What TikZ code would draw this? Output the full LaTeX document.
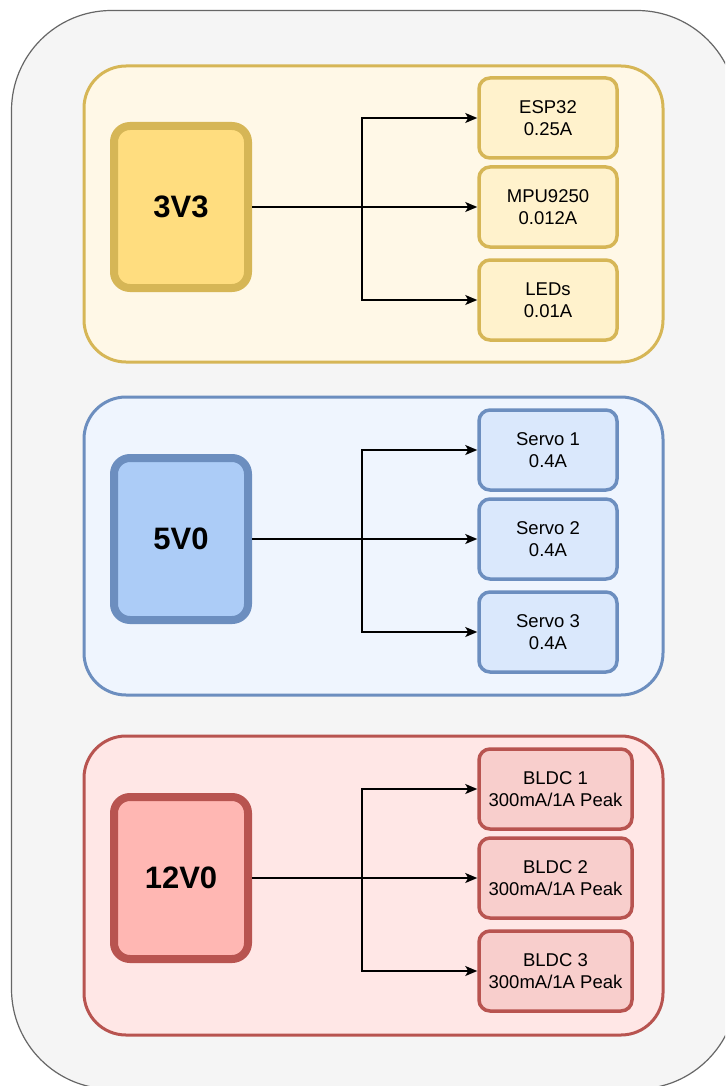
\documentclass[tikz,border=0pt]{standalone}
\usepackage{fontspec}
\setmainfont{Liberation Sans}
\usetikzlibrary{arrows.meta}

\definecolor{outerfill}{HTML}{F5F5F5}
\definecolor{outerline}{HTML}{666666}
\definecolor{ylwline}{HTML}{D6B656}
\definecolor{ylwgroup}{HTML}{FFF8E7}
\definecolor{ylwsrc}{HTML}{FFDD7F}
\definecolor{ylwbox}{HTML}{FFF2CC}
\definecolor{bluline}{HTML}{6C8EBF}
\definecolor{blugroup}{HTML}{EFF5FE}
\definecolor{blusrc}{HTML}{ACCCF7}
\definecolor{blubox}{HTML}{DAE8FC}
\definecolor{redline}{HTML}{B85450}
\definecolor{redgroup}{HTML}{FFE7E6}
\definecolor{redsrc}{HTML}{FFB7B3}
\definecolor{redbox}{HTML}{F8CECC}

\tikzset{
  groupbox/.style={line width=3pt, rounded corners=42pt},
  srcbox/.style={rectangle, line width=8pt, rounded corners=16pt,
    minimum width=134pt, minimum height=162pt, inner sep=0pt,
    font=\fontsize{31}{36}\selectfont\bfseries},
  loadbox/.style={rectangle, line width=3.5pt, rounded corners=11pt,
    minimum width=138pt, minimum height=80pt, inner sep=0pt, align=center,
    font=\fontsize{18.5}{22.5}\selectfont},
  widebox/.style={loadbox, minimum width=153pt},
  feed/.style={draw=black, line width=1.4pt,
    -{Stealth[length=12pt, width=10pt, inset=3pt]}},
}

\begin{document}
\begin{tikzpicture}[x=1pt, y=-1pt]
  \clip (0,0) rectangle (725,1086);
  \fill[white] (0,0) rectangle (725,1086);

  % enclosing board outline
  \draw[fill=outerfill, draw=outerline, line width=1.2pt, rounded corners=100pt]
    (11.5,10.5) rectangle (737,1089);

  % rail groups
  \draw[groupbox, fill=ylwgroup, draw=ylwline] (84,66) rectangle (663,362);
  \draw[groupbox, fill=blugroup, draw=bluline] (84,397) rectangle (663,695);
  \draw[groupbox, fill=redgroup, draw=redline] (84,736) rectangle (663,1035);

  % 3V3 rail
  \node[srcbox, fill=ylwsrc, draw=ylwline] (s1) at (181,207) {3V3};
  \node[loadbox, fill=ylwbox, draw=ylwline] (a1) at (548,118) {ESP32\\0.25A};
  \node[loadbox, fill=ylwbox, draw=ylwline] (a2) at (548,207) {MPU9250\\0.012A};
  \node[loadbox, fill=ylwbox, draw=ylwline] (a3) at (548,300) {LEDs\\0.01A};
  \coordinate (j1) at (362,207);

  % 5V0 rail
  \node[srcbox, fill=blusrc, draw=bluline] (s2) at (181,539) {5V0};
  \node[loadbox, fill=blubox, draw=bluline] (b1) at (548,450) {Servo 1\\0.4A};
  \node[loadbox, fill=blubox, draw=bluline] (b2) at (548,539) {Servo 2\\0.4A};
  \node[loadbox, fill=blubox, draw=bluline] (b3) at (548,632) {Servo 3\\0.4A};
  \coordinate (j2) at (362,539);

  % 12V0 rail
  \node[srcbox, fill=redsrc, draw=redline] (s3) at (181,878) {12V0};
  \node[widebox, fill=redbox, draw=redline] (c1) at (555.5,789) {BLDC 1\\300mA/1A Peak};
  \node[widebox, fill=redbox, draw=redline] (c2) at (555.5,878) {BLDC 2\\300mA/1A Peak};
  \node[widebox, fill=redbox, draw=redline] (c3) at (555.5,971) {BLDC 3\\300mA/1A Peak};
  \coordinate (j3) at (362,878);

  % distribution lines
  \foreach \s/\j/\p/\q/\r in {s1/j1/a1/a2/a3, s2/j2/b1/b2/b3, s3/j3/c1/c2/c3} {
    \draw[feed] (\s.east) -- (\j) |- (\p.west);
    \draw[feed] (\s.east) -- (\q.west);
    \draw[feed] (\s.east) -- (\j) |- (\r.west);
  }
\end{tikzpicture}
\end{document}
